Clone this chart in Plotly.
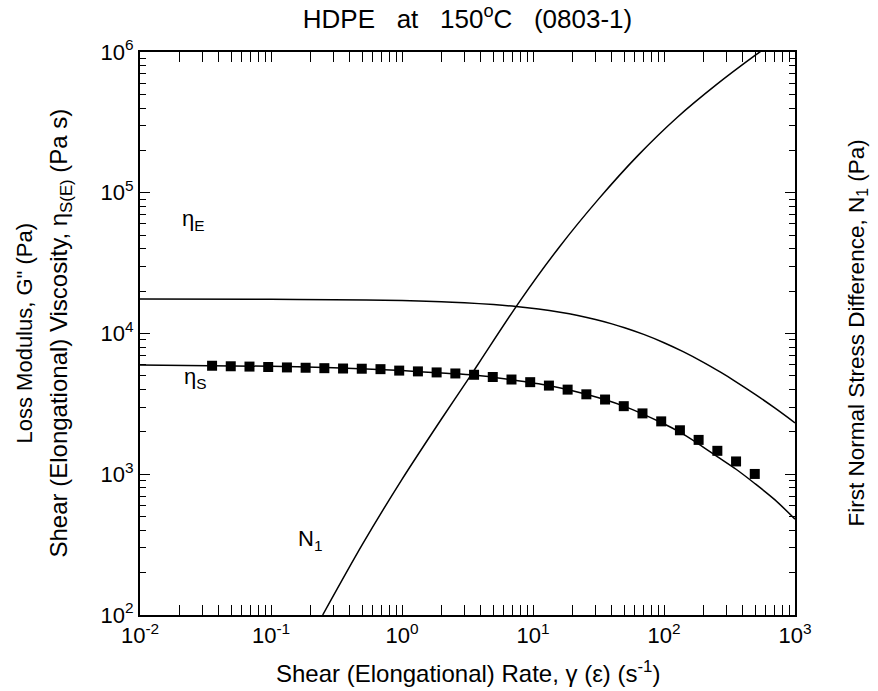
import math
import plotly.graph_objects as go

# ---- data ----
rate_meas = [0.0355, 0.0493, 0.0685, 0.0952, 0.1323, 0.1838, 0.2554, 0.3549, 0.4931, 0.6852,
             0.952, 1.323, 1.838, 2.554, 3.549, 4.931, 6.852, 9.52, 13.23, 18.38,
             25.54, 35.49, 49.31, 68.52, 95.2, 132.3, 183.8, 255.4, 354.9, 493.1]
eta_s_meas = [5900, 5850, 5820, 5780, 5740, 5710, 5670, 5640, 5620, 5580,
              5450, 5380, 5290, 5200, 5090, 4910, 4710, 4510, 4265, 3993,
              3698, 3395, 3046, 2706, 2375, 2053, 1754, 1467, 1233, 1005]

rate_eta_s_fit = [0.01, 0.1, 0.3, 1, 2, 3.55, 6.85, 13.2, 25.5, 49.3, 95.2, 132, 184, 255, 355, 493, 700, 1000]
eta_s_fit = [5970, 5850, 5720, 5450, 5230, 5080, 4700, 4270, 3700, 3050, 2330, 1990, 1640, 1335, 1085, 860, 660, 480]

rate_eta_e = [0.01, 0.1, 0.3, 1, 2, 3, 5, 7.42, 11, 16.1, 22, 30, 40, 50, 70, 100, 140, 200, 270,
              338, 500, 700, 1000]
eta_e = [17570, 17500, 17400, 17130, 16810, 16530, 16050, 15560, 14920, 14150, 13410, 12570, 11710,
         10990, 9850, 8600, 7430, 6240, 5310, 4670, 3680, 2960, 2320]

rate_n1 = [0.248, 0.501, 1.0, 1.995, 3.40, 3.981, 7.943, 15.85, 31.62, 63.1, 125.9, 251.2, 501.2, 708]
n1 = [100, 320, 920, 2460, 5150, 6440, 17000, 41040, 90100, 183600, 342700, 586100, 953000, 1198000]

x_ticks = [0.01, 0.1, 1, 10, 100, 1000]
x_ticktext = ["10<sup>-2</sup>", "10<sup>-1</sup>", "10<sup>0</sup>", "10<sup>1</sup>", "10<sup>2</sup>", "10<sup>3</sup>"]
y_ticks = [100, 1000, 10000, 100000, 1000000]
y_ticktext = ["10<sup>2</sup>", "10<sup>3</sup>", "10<sup>4</sup>", "10<sup>5</sup>", "10<sup>6</sup>"]

FONT = "Liberation Sans, Arial, Helvetica, sans-serif"


def minor_vals(lo_exp, hi_exp):
    return [m * 10 ** e for e in range(lo_exp, hi_exp) for m in range(2, 10)]


fig = go.Figure()

line_style = dict(color="black", width=1.5, shape="spline", smoothing=0.8)

fig.add_trace(go.Scatter(x=rate_eta_e, y=eta_e, mode="lines", line=line_style,
                         showlegend=False, hoverinfo="skip"))
fig.add_trace(go.Scatter(x=rate_eta_s_fit, y=eta_s_fit, mode="lines", line=line_style,
                         showlegend=False, hoverinfo="skip"))
fig.add_trace(go.Scatter(x=rate_meas, y=eta_s_meas, mode="markers",
                         marker=dict(symbol="square", size=10, color="black"),
                         showlegend=False))
fig.add_trace(go.Scatter(x=rate_n1, y=n1, mode="lines", line=line_style, yaxis="y2",
                         showlegend=False, hoverinfo="skip"))

axis_common = dict(
    type="log", showgrid=False, zeroline=False, showline=True, linecolor="black", linewidth=2,
    mirror="allticks", ticks="inside", ticklen=10, tickwidth=1, tickcolor="black",
    tickfont=dict(family=FONT, size=22, color="black"),
)

NB3 = "&nbsp;&nbsp;&nbsp;"
fig.update_layout(
    width=878, height=691,
    margin=dict(l=140, r=83, t=52, b=76),
    paper_bgcolor="white", plot_bgcolor="white",
    font=dict(family=FONT, color="black"),
    title=dict(text="HDPE" + NB3 + "at" + NB3 + "150<sup>o</sup>C" + NB3 + "(0803-1)",
               x=0.5, xref="paper", y=1 - 19 / 691, yref="container", yanchor="middle",
               xanchor="center", font=dict(family=FONT, size=26, color="black")),
    xaxis=dict(axis_common, range=[-2, 3], tickvals=x_ticks, ticktext=x_ticktext,
               minor=dict(ticks="inside", ticklen=6, tickwidth=1, tickcolor="black",
                          tickvals=minor_vals(-2, 3), showgrid=False)),
    yaxis=dict(axis_common, range=[2, 6], tickvals=y_ticks, ticktext=y_ticktext,
               minor=dict(ticks="inside", ticklen=6, tickwidth=1, tickcolor="black",
                          tickvals=minor_vals(2, 6), showgrid=False)),
    yaxis2=dict(type="log", range=[2, 6], overlaying="y", side="right", showticklabels=False,
                ticks="", showgrid=False, zeroline=False, showline=False),
)

ann_font = dict(family=FONT, size=22, color="black")
annotations = [
    dict(text="Shear (Elongational) Rate, γ (ε) (s<sup>-1</sup>)", xref="paper", yref="paper",
         x=0.5, y=-0.101, showarrow=False, font=dict(ann_font, size=24),
         xanchor="center", yanchor="middle"),
    dict(text="Loss Modulus, G\" (Pa)", xref="paper", yref="paper", x=(24 - 140) / 655, y=0.5,
         textangle=-90, showarrow=False, font=ann_font, xanchor="center", yanchor="middle"),
    dict(text="Shear (Elongational) Viscosity, η<sub>S(E)</sub> (Pa s)", xref="paper", yref="paper",
         x=(60 - 140) / 655, y=0.5, textangle=-90, showarrow=False, font=dict(ann_font, size=24),
         xanchor="center", yanchor="middle"),
    dict(text="First Normal Stress Difference, N<sub>1</sub> (Pa)", xref="paper", yref="paper",
         x=(857 - 140) / 655, y=0.5, textangle=-90, showarrow=False, font=dict(ann_font, size=22.5),
         xanchor="center", yanchor="middle"),
    dict(text="η<sub>E</sub>", xref="x", yref="y", x=math.log10(0.0258), y=math.log10(64000),
         showarrow=False, font=ann_font),
    dict(text="η<sub>S</sub>", xref="x", yref="y", x=math.log10(0.0263), y=math.log10(4830),
         showarrow=False, font=ann_font),
    dict(text="N<sub>1</sub>", xref="x", yref="y", x=math.log10(0.199), y=math.log10(341),
         showarrow=False, font=ann_font),
]
fig.update_layout(annotations=annotations)

# remove the browser's default 8px body margin so the figure sits at the page origin
fig.write_html("out.html", config={"displayModeBar": False},
               post_script="document.body.style.margin='0';")
